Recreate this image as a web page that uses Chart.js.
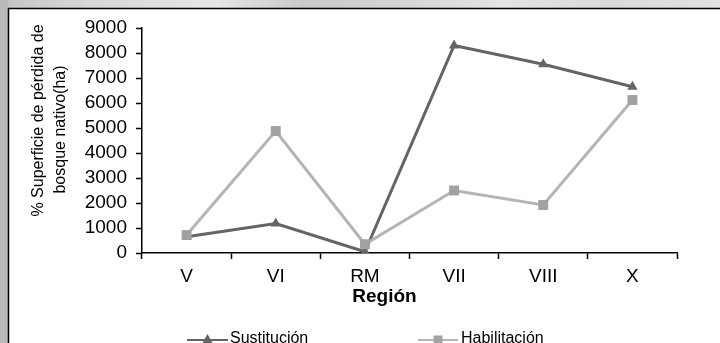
<!DOCTYPE html>
<html>
<head>
<meta charset="utf-8">
<script src="https://cdn.jsdelivr.net/npm/chart.js@4/dist/chart.umd.min.js"></script>
<style>
  html, body { margin: 0; padding: 0; background: #ffffff; overflow: hidden; }
  #wrap { position: relative; width: 720px; height: 343px; }
</style>
</head>
<body>
<div id="wrap"><canvas id="c"></canvas></div>
<script>
const categories = ['V', 'VI', 'RM', 'VII', 'VIII', 'X'];
const sustitucion = [650, 1180, 50, 8300, 7550, 6650];
const habilitacion = [720, 4880, 350, 2500, 1920, 6120];
const yTicks = [0, 1000, 2000, 3000, 4000, 5000, 6000, 7000, 8000, 9000];
const seriesNames = ['Sustitución', 'Habilitación'];
const yTitleLines = ['% Superficie de pérdida de', 'bosque nativo(ha)'];
const xTitle = 'Región';

const FONT = 'Arial, "Liberation Sans", Helvetica, sans-serif';
const darkGray = '#646464';
const lightGray = '#b4b4b4';
const lightMarker = '#a2a2a2';

const framePlugin = {
  id: 'frame',
  beforeDraw(chart) {
    const ctx = chart.ctx;
    const W = chart.width, H = chart.height;
    ctx.save();
    const g = ctx.createLinearGradient(0, 0, W, 0);
    g.addColorStop(0, '#c4c4c4');
    g.addColorStop(0.12, '#d6d6d6');
    g.addColorStop(0.3, '#e6e6e6');
    g.addColorStop(0.42, '#c9c9c9');
    g.addColorStop(0.55, '#d4d4d4');
    g.addColorStop(0.7, '#e4e4e4');
    g.addColorStop(0.85, '#dadada');
    g.addColorStop(1, '#e2e2e2');
    ctx.fillStyle = g;
    ctx.fillRect(0, 0, W, 8);
    ctx.fillStyle = '#b9b9b9';
    ctx.fillRect(0, 0, 8, H);
    ctx.fillStyle = '#ffffff';
    ctx.fillRect(8, 8, W - 8, H - 8);
    ctx.strokeStyle = '#000000';
    ctx.lineWidth = 1.5;
    ctx.beginPath();
    ctx.moveTo(8.5, H);
    ctx.lineTo(8.5, 8.5);
    ctx.lineTo(W, 8.5);
    ctx.stroke();
    ctx.restore();
  },
  afterDraw(chart) {
    const ctx = chart.ctx;
    ctx.save();
    ctx.fillStyle = '#000000';
    ctx.font = '16px ' + FONT;
    ctx.textAlign = 'center';
    ctx.textBaseline = 'middle';
    const yCenters = [[39, 120.5], [61, 129.5]];
    yTitleLines.forEach((t, i) => {
      ctx.save();
      ctx.translate(yCenters[i][0], yCenters[i][1]);
      ctx.rotate(-Math.PI / 2);
      ctx.fillText(t, 0, 0);
      ctx.restore();
    });
    ctx.font = 'bold 19px ' + FONT;
    ctx.textBaseline = 'alphabetic';
    ctx.fillText(xTitle, 384.5, 302);
    const legendPos = [{ x0: 187, x1: 228, tx: 230 }, { x0: 418, x1: 458, tx: 461 }];
    const ly = 340;
    chart.data.datasets.forEach((ds, k) => {
      const p = legendPos[k];
      ctx.strokeStyle = ds.borderColor;
      ctx.lineWidth = 2;
      ctx.beginPath();
      ctx.moveTo(p.x0, ly);
      ctx.lineTo(p.x1, ly);
      ctx.stroke();
      const cx = (p.x0 + p.x1) / 2;
      ctx.fillStyle = ds.pointBackgroundColor;
      if (ds.pointStyle === 'triangle') {
        ctx.beginPath();
        ctx.moveTo(cx, ly - 6);
        ctx.lineTo(cx + 5, ly + 3);
        ctx.lineTo(cx - 5, ly + 3);
        ctx.closePath();
        ctx.fill();
      } else {
        ctx.fillRect(cx - 4.5, ly - 4.5, 9, 9);
      }
      ctx.fillStyle = '#000000';
      ctx.font = '16px ' + FONT;
      ctx.textAlign = 'left';
      ctx.textBaseline = 'alphabetic';
      ctx.fillText(ds.label, p.tx, 342.5);
    });
    ctx.restore();
  }
};

new Chart(document.getElementById('c'), {
  type: 'line',
  data: {
    labels: categories,
    datasets: [
      {
        label: seriesNames[0],
        data: sustitucion,
        borderColor: darkGray,
        backgroundColor: darkGray,
        pointBackgroundColor: darkGray,
        pointBorderColor: darkGray,
        pointStyle: 'triangle',
        pointRadius: 6,
        pointBorderWidth: 0,
        borderWidth: 3,
        tension: 0,
        order: 1
      },
      {
        label: seriesNames[1],
        data: habilitacion,
        borderColor: lightGray,
        backgroundColor: lightMarker,
        pointBackgroundColor: lightMarker,
        pointBorderColor: lightMarker,
        pointStyle: 'rect',
        pointRadius: 7,
        pointBorderWidth: 0,
        borderWidth: 3,
        tension: 0,
        order: 0
      }
    ]
  },
  options: {
    responsive: true,
    maintainAspectRatio: false,
    animation: false,
    events: [],
    layout: { padding: { top: 28, right: 43, left: 0, bottom: 0 } },
    plugins: {
      legend: { display: false },
      tooltip: { enabled: false },
      title: { display: false }
    },
    scales: {
      x: {
        type: 'category',
        offset: true,
        grid: {
          offset: true,
          drawOnChartArea: false,
          drawTicks: true,
          tickLength: 6,
          tickColor: '#000000',
          tickWidth: 1.5
        },
        border: { display: true, color: '#000000', width: 1.5 },
        ticks: {
          color: '#000000',
          font: { family: FONT, size: 19 },
          padding: 6,
          maxRotation: 0,
          autoSkip: false
        },
        afterFit(scale) { scale.height = 90; }
      },
      y: {
        min: 0,
        max: 9000,
        afterBuildTicks(scale) { scale.ticks = yTicks.map(v => ({ value: v })); },
        grid: {
          drawOnChartArea: false,
          drawTicks: true,
          tickLength: 6,
          tickColor: '#000000',
          tickWidth: 1.5
        },
        border: { display: true, color: '#000000', width: 1.5 },
        ticks: {
          color: '#000000',
          font: { family: FONT, size: 19 },
          padding: 9,
          autoSkip: false,
          callback: (v) => String(v)
        },
        afterFit(scale) { scale.width = 142; }
      }
    }
  },
  plugins: [framePlugin]
});
</script>
</body>
</html>
